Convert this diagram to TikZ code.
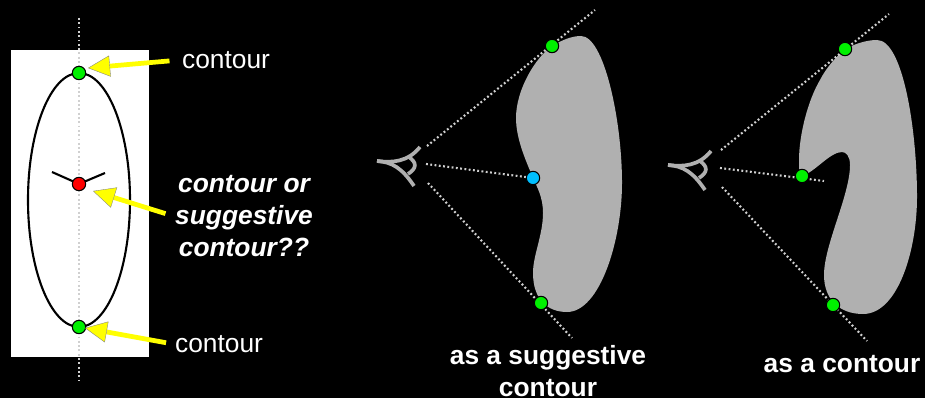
\documentclass[tikz,border=0pt]{standalone}
\usepackage{fontspec}
\setmainfont{Liberation Sans}
\usepackage{xcolor}
\usetikzlibrary{arrows.meta}
\definecolor{blobgray}{HTML}{B0B0B0}
\definecolor{sightgray}{HTML}{D0D0D0}
\definecolor{markgreen}{HTML}{00F000}
\definecolor{markblue}{HTML}{00BFFF}
\definecolor{pointeryellow}{HTML}{FFFF00}
\tikzset{
  sight/.style={sightgray,line width=1.2pt,dash pattern=on 1.05pt off 1.4pt},
  marker/.style={circle,draw=black,line width=0.6pt,minimum size=7.6pt,inner sep=0pt},
  pointer/.style={pointeryellow,line width=2.7pt,
    -{Triangle[length=12.5pt,width=12pt,fill=pointeryellow,color=gray,line width=0.2pt]}},
  caption/.style={white,font=\fontsize{15}{18.2}\selectfont,align=center,inner sep=1pt},
  boldcaption/.style={white,font=\fontsize{15}{18.2}\selectfont\bfseries,inner sep=0pt}
}
\newcommand{\eyemark}[2]{
  \begin{scope}[shift={(#1,#2)},blobgray,line width=2.1pt]
    \draw (377,161) .. controls (392,163) and (408,162) .. (420,147);
    \draw (377,161) .. controls (392,162) and (402,168) .. (414,186);
    \draw (409,157) .. controls (417,163) and (417,168) .. (408,174);
  \end{scope}
}
\begin{document}
\begin{tikzpicture}[x=0.02cm,y=-0.02cm]
  \fill[black] (0,0) rectangle (925,398);
  \useasboundingbox (0,0) rectangle (925,398);
  % upright ellipse on the page
  \fill[white] (11,50) rectangle (149,357);
  \draw[sight] (79,18) -- (79,382);
  \draw[black,line width=1.2pt] (79,200) ellipse [x radius=51,y radius=127];
  \draw[black,line width=1.2pt] (52,172) -- (79,184) -- (105,173);
  \node[marker,fill=markgreen] (topdot) at (79,73) {};
  \node[marker,fill=red] (middot) at (79,184) {};
  \node[marker,fill=markgreen] (lowdot) at (79,327) {};
  \node[caption,anchor=west] (toplabel) at (180,60) {contour};
  \node[caption,font=\fontsize{15}{18.2}\selectfont\bfseries\itshape] (midlabel) at (244,216) {contour or\\suggestive\\contour??};
  \node[caption,anchor=west] (lowlabel) at (173,344) {contour};
  \coordinate (toptip) at (88,68);
  \coordinate (midtip) at (93,191);
  \coordinate (lowtip) at (85,328);
  \draw[pointer,shorten <=6pt] (toplabel.west) -- (toptip);
  \draw[pointer,shorten <=4.5pt] (midlabel.west) -- (midtip);
  \draw[pointer,shorten <=4pt] (lowlabel.west) -- (lowtip);
  % the two bodies seen from the eye
  \fill[blobgray] (552,46) .. controls (562,40) and (572,36) .. (581,36)
     .. controls (604,36) and (622,120) .. (622,183)
     .. controls (622,240) and (600,312) .. (567,312)
     .. controls (548,312) and (533,300) .. (533,273)
     .. controls (533,255) and (543,235) .. (543,213)
     .. controls (543,197) and (537,187) .. (533,178)
     .. controls (527,163) and (516,140) .. (516,118)
     .. controls (516,90) and (535,58) .. (552,46) -- cycle;
  \fill[blobgray] (845,49) .. controls (855,44) and (866,40) .. (877,40)
     .. controls (903,40) and (917,130) .. (917,197)
     .. controls (917,250) and (898,314) .. (863,314)
     .. controls (840,314) and (824,300) .. (824,275)
     .. controls (824,245) and (850,195) .. (850,165)
     .. controls (850,156) and (846,152) .. (842,152)
     .. controls (830,152) and (815,172) .. (802,176)
     .. controls (799,177) and (799,170) .. (799,160)
     .. controls (799,135) and (808,100) .. (820,80)
     .. controls (826,68) and (836,57) .. (845,49) -- cycle;
  \eyemark{0}{0}
  \eyemark{291}{4}
  \coordinate (eyeAtop) at (427,146);
  \coordinate (eyeAmid) at (426,164);
  \coordinate (eyeAlow) at (428,183);
  \coordinate (rayAtop) at (595,10);
  \coordinate (rayAmid) at (533,178);
  \coordinate (rayAlow) at (572,338);
  \coordinate (eyeBtop) at (721,150);
  \coordinate (eyeBmid) at (720,168);
  \coordinate (eyeBlow) at (722,187);
  \coordinate (rayBtop) at (889,14);
  \coordinate (rayBmid) at (824,181);
  \coordinate (rayBlow) at (867,341);
  \foreach \ray in {Atop,Amid,Alow,Btop,Bmid,Blow}
    \draw[sight] (eye\ray) -- (ray\ray);
  \node[marker,fill=markgreen] (dotAtop) at (552,46) {};
  \node[marker,fill=markblue] (dotAmid) at (533,178) {};
  \node[marker,fill=markgreen] (dotAlow) at (541,303) {};
  \node[marker,fill=markgreen] (dotBtop) at (845,49) {};
  \node[marker,fill=markgreen] (dotBmid) at (802,176) {};
  \node[marker,fill=markgreen] (dotBlow) at (833,305) {};
  \node[boldcaption,anchor=base] (captionA) at (548,364) {as a suggestive};
  \node[boldcaption,anchor=base] (captionAnext) at (548,396) {contour};
  \node[boldcaption,anchor=base] (captionB) at (842,372) {as a contour};
\end{tikzpicture}
\end{document}
